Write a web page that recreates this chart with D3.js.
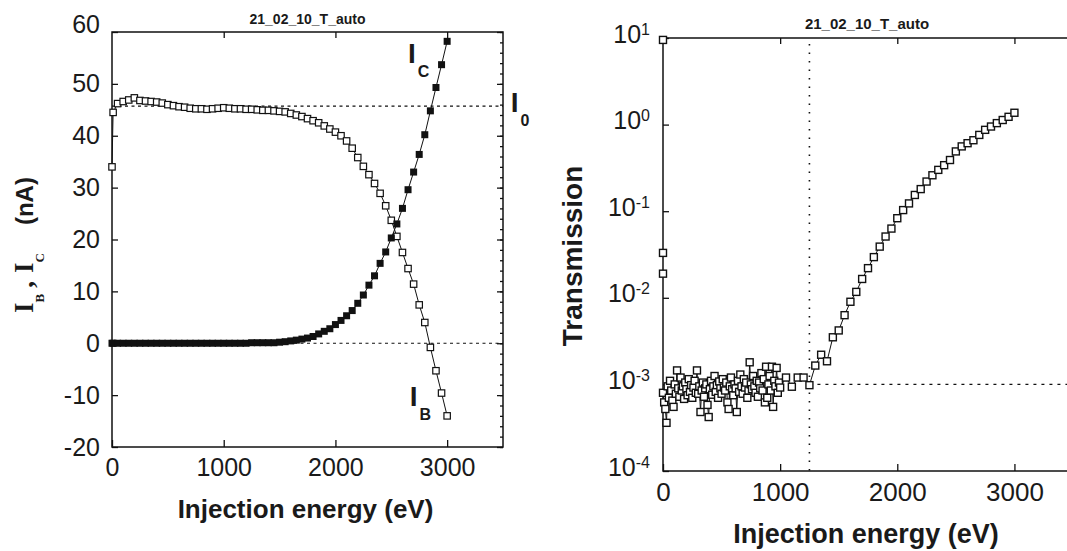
<!DOCTYPE html>
<html>
<head>
<meta charset="utf-8">
<title>21_02_10_T_auto</title>
<script src="https://cdn.jsdelivr.net/npm/d3@7"></script>
<style>
  body { margin: 0; background: #fff; }
  svg text { font-family: "Liberation Sans", Arial, sans-serif; fill: #1a1a1a; }
</style>
</head>
<body>
<div id="container"></div>
<script>
// ---------- values ----------
var runTitle = "21_02_10_T_auto";
var xLabel = "Injection energy (eV)";

// left panel: beam currents (nA) vs injection energy (eV)
var energy = [0, 10, 50, 100, 150, 200, 250, 300, 350, 400, 450, 500, 550, 600, 650, 700, 750, 800, 850, 900, 950,
  1000, 1050, 1100, 1150, 1200, 1250, 1300, 1350, 1400, 1450, 1500, 1550, 1600, 1650, 1700, 1750, 1800, 1850, 1900, 1950,
  2000, 2050, 2100, 2150, 2200, 2250, 2300, 2350, 2400, 2450, 2500, 2550, 2600, 2650, 2700, 2750, 2800, 2850, 2900, 2950, 3000];
var currentB = [34, 44.5, 46.2, 46.6, 46.9, 47.3, 46.8, 46.7, 46.6, 46.5, 46.3, 46.0, 45.8, 45.6, 45.5, 45.3, 45.2, 45.2, 45.1, 45.2, 45.3,
  45.4, 45.3, 45.2, 45.2, 45.1, 45.1, 45.0, 44.9, 44.9, 44.8, 44.7, 44.6, 44.3, 44.0, 43.7, 43.3, 42.9, 42.5, 41.9, 41.3,
  40.7, 40.0, 39.0, 37.6, 35.8, 34.1, 32.5, 30.8, 28.9, 26.5, 23.7, 20.6, 17.5, 14.4, 11.4, 7.4, 4.0, -0.8, -5.3, -9.6, -14.0];
var currentC = [0, 0, 0, 0, 0, 0, 0, 0, 0, 0, 0, 0, 0, 0, 0, 0, 0, 0, 0, 0, 0,
  0, 0, 0, 0, 0, 0.1, 0.1, 0.1, 0.1, 0.1, 0.2, 0.3, 0.45, 0.6, 0.8, 1.0, 1.3, 1.8, 2.3, 2.8,
  3.6, 4.4, 5.3, 6.3, 7.7, 9.3, 11.2, 13.0, 15.4, 17.6, 20.3, 23.0, 26.0, 29.6, 33.0, 36.4, 40.2, 44.8, 49.3, 53.7, 58.2];
var currentI0 = 45.7;
var energyTicks = [0, 1000, 2000, 3000];
var currentTicks = [-20, -10, 0, 10, 20, 30, 40, 50, 60];

// right panel: transmission vs injection energy (eV)
var transEnergy = [0, 0, 0,
  0, 10, 20, 30, 40, 50, 60, 70, 80, 90, 100, 110, 120, 130, 140, 150, 160, 170, 180, 190,
  200, 210, 220, 230, 240, 250, 260, 270, 280, 290, 300, 310, 320, 330, 340, 350, 360, 370, 380, 390,
  400, 410, 420, 430, 440, 450, 460, 470, 480, 490, 500, 510, 520, 530, 540, 550, 560, 570, 580, 590,
  600, 610, 620, 630, 640, 650, 660, 670, 680, 690, 700, 710, 720, 730, 740, 750, 760, 770, 780, 790,
  800, 810, 820, 830, 840, 850, 860, 870, 880, 890, 900, 910, 920, 930, 940, 950, 960, 970, 980, 990, 1000,
  1050, 1100, 1150, 1200, 1250,
  1300, 1350, 1400, 1450, 1500, 1550, 1600, 1650, 1700, 1750, 1800, 1850, 1900, 1950,
  2000, 2050, 2100, 2150, 2200, 2250, 2300, 2350, 2400, 2450, 2500, 2550, 2600, 2650, 2700, 2750, 2800, 2850, 2900, 2950, 3000];
var transmission = [9.5, 0.033, 0.019,
  0.80e-3, 0.62e-3, 0.52e-3, 0.36e-3, 0.95e-3, 0.70e-3, 1.10e-3, 0.85e-3, 0.65e-3, 0.55e-3, 1.00e-3, 0.78e-3, 1.45e-3, 0.90e-3, 0.72e-3, 1.20e-3, 0.85e-3, 0.95e-3, 0.68e-3, 1.05e-3,
  0.88e-3, 0.75e-3, 1.15e-3, 0.82e-3, 0.98e-3, 0.70e-3, 0.92e-3, 1.10e-3, 0.80e-3, 1.45e-3, 0.78e-3, 0.95e-3, 0.48e-3, 0.85e-3, 1.05e-3, 0.72e-3, 0.90e-3, 1.00e-3, 0.58e-3, 0.42e-3,
  0.88e-3, 1.10e-3, 0.76e-3, 0.95e-3, 1.25e-3, 0.82e-3, 0.98e-3, 0.70e-3, 1.08e-3, 0.90e-3, 0.78e-3, 1.15e-3, 0.92e-3, 0.85e-3, 1.05e-3, 0.62e-3, 0.52e-3, 0.95e-3, 1.20e-3, 0.88e-3,
  0.75e-3, 1.00e-3, 0.90e-3, 0.48e-3, 1.10e-3, 0.82e-3, 1.30e-3, 0.95e-3, 0.78e-3, 1.15e-3, 0.92e-3, 1.05e-3, 0.70e-3, 0.85e-3, 1.80e-3, 1.00e-3, 0.88e-3, 1.25e-3, 0.95e-3, 0.80e-3,
  1.10e-3, 0.72e-3, 1.05e-3, 0.90e-3, 1.35e-3, 0.85e-3, 1.15e-3, 0.62e-3, 1.60e-3, 0.70e-3, 1.00e-3, 1.25e-3, 0.85e-3, 1.60e-3, 0.55e-3, 1.10e-3, 0.95e-3, 1.55e-3, 0.80e-3, 1.05e-3, 0.92e-3,
  1.20e-3, 0.94e-3, 1.20e-3, 1.20e-3, 0.98e-3,
  1.65e-3, 2.2e-3, 1.85e-3, 3.5e-3, 4.2e-3, 6.3e-3, 9.0e-3, 0.0117, 0.0165, 0.022, 0.0295, 0.039, 0.051, 0.063,
  0.083, 0.103, 0.123, 0.154, 0.18, 0.22, 0.26, 0.30, 0.34, 0.39, 0.49, 0.56, 0.61, 0.66, 0.76, 0.87, 0.95, 1.04, 1.13, 1.23, 1.37];
var transTicks = [1e-4, 1e-3, 1e-2, 1e-1, 1, 10];
var thresholdEnergy = 1250;
var noiseLevel = 1e-3;

// ---------- drawing ----------
var W = 1067, H = 551;
var svg = d3.select("#container").append("svg")
  .attr("width", W).attr("height", H)
  .style("background", "#fff");

var plain = function(d) { return String(d); };

function styleAxis(g, size) {
  g.select(".domain").remove();
  g.selectAll("line").attr("stroke", "#111").attr("stroke-width", 1.3);
  g.attr("font-family", null).attr("font-size", null);
  g.selectAll("text").style("font-size", size + "px").attr("fill", "#1a1a1a");
}

// ===== left panel =====
var xL = d3.scaleLinear().domain([0, 3500]).range([112, 503]);
var yL = d3.scaleLinear().domain([-20, 60]).range([447, 32]);
var left = svg.append("g");

left.append("g").attr("transform", "translate(0," + yL(-20) + ")")
  .call(d3.axisBottom(xL).tickValues(energyTicks).tickFormat(plain).tickSize(-7).tickPadding(11))
  .call(styleAxis, 25);
left.append("g").attr("transform", "translate(0," + yL(60) + ")")
  .call(d3.axisTop(xL).tickValues(energyTicks.slice(1)).tickSize(-6).tickFormat(""))
  .call(styleAxis, 25);
var yAxL = left.append("g").attr("transform", "translate(" + xL(0) + ",0)")
  .call(d3.axisLeft(yL).tickValues(currentTicks).tickFormat(plain).tickSize(-6).tickPadding(12))
  .call(styleAxis, 25);
yAxL.selectAll(".tick text").filter(function(d) { return d === 60; }).attr("dy", "0.0em");
left.append("g").attr("transform", "translate(" + xL(3500) + ",0)")
  .call(d3.axisRight(yL).tickValues(d3.range(-20, 61, 2)).tickSize(-3).tickFormat(""))
  .call(styleAxis, 25);
left.append("g").attr("transform", "translate(" + xL(3500) + ",0)")
  .call(d3.axisRight(yL).tickValues(currentTicks).tickSize(-6).tickFormat(""))
  .call(styleAxis, 25);

left.append("rect")
  .attr("x", xL(0)).attr("y", yL(60))
  .attr("width", xL(3500) - xL(0)).attr("height", yL(-20) - yL(60))
  .attr("fill", "none").attr("stroke", "#111").attr("stroke-width", 1.5);

// reference levels: I0 and zero
[currentI0, 0].forEach(function(v) {
  left.append("line")
    .attr("x1", xL(0)).attr("x2", xL(3500))
    .attr("y1", yL(v)).attr("y2", yL(v))
    .attr("stroke", "#111").attr("stroke-width", 1.2)
    .attr("stroke-dasharray", "3,3.5");
});

var ptsB = energy.map(function(e, i) { return [e, currentB[i]]; });
var ptsC = energy.map(function(e, i) { return [e, currentC[i]]; });
var lineL = d3.line().x(function(d) { return xL(d[0]); }).y(function(d) { return yL(d[1]); });

left.append("path").datum(ptsB).attr("d", lineL)
  .attr("fill", "none").attr("stroke", "#111").attr("stroke-width", 1);
left.append("path").datum(ptsC).attr("d", lineL)
  .attr("fill", "none").attr("stroke", "#111").attr("stroke-width", 1);

left.selectAll("rect.ib").data(ptsB).enter().append("rect")
  .attr("class", "ib")
  .attr("x", function(d) { return xL(d[0]) - 3.2; })
  .attr("y", function(d) { return yL(d[1]) - 3.2; })
  .attr("width", 6.4).attr("height", 6.4)
  .attr("fill", "#fff").attr("stroke", "#111").attr("stroke-width", 1.2);
left.selectAll("rect.ic").data(ptsC).enter().append("rect")
  .attr("class", "ic")
  .attr("x", function(d) { return xL(d[0]) - 3.5; })
  .attr("y", function(d) { return yL(d[1]) - 3.5; })
  .attr("width", 7).attr("height", 7)
  .attr("fill", "#111");

// curve labels
var curveLabels = [
  {main: "I", sub: "C", e: 2650, v: 54},
  {main: "I", sub: "0", e: 3570, v: 44.5},
  {main: "I", sub: "B", e: 2665, v: -12}
];
curveLabels.forEach(function(c) {
  var t = left.append("text")
    .attr("x", xL(c.e)).attr("y", yL(c.v))
    .style("font-weight", "bold");
  t.append("tspan").style("font-size", "28px").text(c.main);
  t.append("tspan").style("font-size", "16px").attr("dx", 2).attr("dy", 14).text(c.sub);
});

left.append("text")
  .attr("x", (xL(0) + xL(3500)) / 2).attr("y", 24)
  .attr("text-anchor", "middle")
  .style("font-size", "14px").style("font-weight", "bold")
  .text(runTitle);

left.append("text")
  .attr("x", (xL(0) + xL(3500)) / 2 - 2).attr("y", 518)
  .attr("text-anchor", "middle")
  .style("font-size", "26px").style("font-weight", "bold")
  .text(xLabel);

var yLab = left.append("text")
  .attr("transform", "translate(33,245) rotate(-90)")
  .attr("text-anchor", "middle")
  .style("font-weight", "bold");
var serif = "'Liberation Serif', 'Times New Roman', serif";
yLab.append("tspan").style("font-family", serif).style("font-size", "27px").text("I");
yLab.append("tspan").style("font-family", serif).style("font-size", "13px").attr("dy", 11).text("B");
yLab.append("tspan").style("font-family", serif).style("font-size", "27px").attr("dy", -11).attr("dx", 6).text(",");
yLab.append("tspan").style("font-family", serif).style("font-size", "27px").attr("dx", 8).text("I");
yLab.append("tspan").style("font-family", serif).style("font-size", "13px").attr("dy", 11).text("C");
yLab.append("tspan").style("font-size", "24px").attr("dy", -11).attr("dx", 28).text("(nA)");

// ===== right panel =====
var xR = d3.scaleLinear().domain([0, 3500]).range([663, 1073]);
var yR = d3.scaleLog().domain([1e-4, 10]).range([471, 38]);
var right = svg.append("g");

right.append("g").attr("transform", "translate(0," + yR(1e-4) + ")")
  .call(d3.axisBottom(xR).tickValues(energyTicks).tickFormat(plain).tickSize(-7).tickPadding(12))
  .call(styleAxis, 26);
right.append("g").attr("transform", "translate(0," + yR(10) + ")")
  .call(d3.axisTop(xR).tickValues(energyTicks.slice(1)).tickSize(-6).tickFormat(""))
  .call(styleAxis, 26);
var yAxR = right.append("g").attr("transform", "translate(" + xR(0) + ",0)")
  .call(d3.axisLeft(yR).tickValues(transTicks).tickSize(-6).tickPadding(13))
  .call(styleAxis, 25);
yAxR.selectAll(".tick text").attr("dy", "0.16em").each(function(d) {
  var t = d3.select(this);
  var p = Math.round(Math.log10(d));
  t.text(null);
  t.append("tspan").text("10");
  t.append("tspan").attr("dy", -8).style("font-size", "16px").text(String(p));
});
right.append("g").attr("transform", "translate(" + xR(3500) + ",0)")
  .call(d3.axisRight(yR).tickValues(transTicks).tickSize(-6).tickFormat(""))
  .call(styleAxis, 25);

right.append("rect")
  .attr("x", xR(0)).attr("y", yR(10))
  .attr("width", xR(3500) - xR(0)).attr("height", yR(1e-4) - yR(10))
  .attr("fill", "none").attr("stroke", "#111").attr("stroke-width", 1.5);

right.append("line")
  .attr("x1", xR(thresholdEnergy)).attr("x2", xR(thresholdEnergy))
  .attr("y1", yR(10) + 6).attr("y2", yR(1e-4))
  .attr("stroke", "#111").attr("stroke-width", 1.6)
  .attr("stroke-dasharray", "1.5,7");
right.append("line")
  .attr("x1", xR(thresholdEnergy)).attr("x2", xR(3500))
  .attr("y1", yR(noiseLevel)).attr("y2", yR(noiseLevel))
  .attr("stroke", "#111").attr("stroke-width", 1.4)
  .attr("stroke-dasharray", "3,5");

var ptsT = transEnergy.map(function(e, i) { return [e, transmission[i]]; });
var lineR = d3.line().x(function(d) { return xR(d[0]); }).y(function(d) { return yR(d[1]); });
right.append("path").datum(ptsT.slice(3)).attr("d", lineR)
  .attr("fill", "none").attr("stroke", "#111").attr("stroke-width", 1);
right.selectAll("rect.tr").data(ptsT).enter().append("rect")
  .attr("class", "tr")
  .attr("x", function(d) { return xR(d[0]) - 3.5; })
  .attr("y", function(d) { return yR(d[1]) - 3.5; })
  .attr("width", 7).attr("height", 7)
  .attr("fill", "#fff").attr("stroke", "#111").attr("stroke-width", 1.4);

right.append("text")
  .attr("x", 867).attr("y", 29)
  .attr("text-anchor", "middle")
  .style("font-size", "15px").style("font-weight", "bold")
  .text(runTitle);

right.append("text")
  .attr("x", 866).attr("y", 543)
  .attr("text-anchor", "middle")
  .style("font-size", "27px").style("font-weight", "bold")
  .text(xLabel);

right.append("text")
  .attr("transform", "translate(582,256) rotate(-90)")
  .attr("text-anchor", "middle")
  .style("font-size", "28px").style("font-weight", "bold")
  .text("Transmission");
</script>
</body>
</html>
